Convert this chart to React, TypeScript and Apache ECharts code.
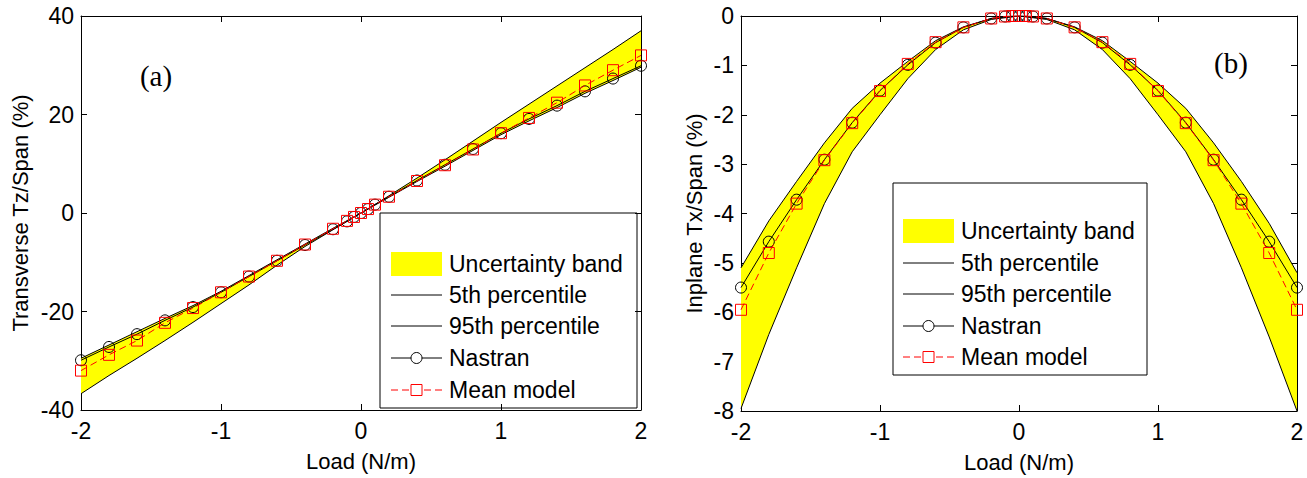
import React, { useEffect, useRef } from "react";
import * as echarts from "echarts";

// ---------- data ----------
const loadX = [-2, -1.8, -1.6, -1.4, -1.2, -1, -0.8, -0.6, -0.4, -0.2, -0.1, -0.05, 0, 0.05, 0.1, 0.2, 0.4, 0.6, 0.8, 1, 1.2, 1.4, 1.6, 1.8, 2];
const bandX = [-2, -1.8, -1.6, -1.4, -1.2, -1, -0.8, -0.6, -0.4, -0.2, 0, 0.2, 0.4, 0.6, 0.8, 1, 1.2, 1.4, 1.6, 1.8, 2];

// (a) transverse Tz/Span (%)
const tzNastran = [-29.9, -27.2, -24.6, -21.8, -19.1, -16.1, -12.9, -9.7, -6.5, -3.3, -1.7, -0.8, 0, 0.8, 1.7, 3.3, 6.6, 9.8, 13.0, 16.2, 19.1, 21.8, 24.7, 27.3, 29.9];
const tzMean = [-32.0, -28.8, -25.9, -22.3, -19.3, -16.1, -12.9, -9.7, -6.4, -3.2, -1.6, -0.8, 0, 0.8, 1.7, 3.3, 6.5, 9.7, 12.9, 16.2, 19.3, 22.4, 25.9, 29.0, 32.0];
const tzP5 = [-36.7, -33.0, -29.5, -25.9, -22.2, -18.4, -14.6, -10.6, -6.8, -3.4, 0, 3.2, 6.4, 9.5, 12.7, 15.9, 18.7, 21.4, 24.3, 26.9, 29.6];
const tzP95 = [-29.5, -26.8, -24.1, -21.4, -18.8, -15.9, -12.7, -9.5, -6.3, -3.1, 0, 3.5, 7.1, 10.8, 14.6, 18.4, 22.1, 25.8, 29.5, 33.2, 37.0];

// (b) inplane Tx/Span (%)
const txNastran = [-5.5, -4.57, -3.72, -2.91, -2.16, -1.51, -0.99, -0.54, -0.23, -0.05, -0.01, 0, 0, 0, -0.01, -0.05, -0.23, -0.54, -0.99, -1.51, -2.16, -2.91, -3.72, -4.57, -5.5];
const txMean = [-5.95, -4.8, -3.8, -2.92, -2.17, -1.52, -0.97, -0.53, -0.23, -0.05, -0.01, 0, 0, 0, -0.01, -0.05, -0.23, -0.53, -0.97, -1.52, -2.17, -2.92, -3.8, -4.8, -5.95];
const txP95 = [-5.1, -4.15, -3.35, -2.57, -1.87, -1.36, -0.92, -0.5, -0.22, -0.05, 0, -0.05, -0.22, -0.5, -0.92, -1.36, -1.87, -2.57, -3.35, -4.2, -5.2];
const txP5 = [-7.95, -6.45, -5.1, -3.8, -2.75, -2.0, -1.27, -0.68, -0.28, -0.07, 0, -0.07, -0.28, -0.68, -1.27, -2.0, -2.75, -3.8, -5.1, -6.5, -8.0];

const xTicks = { min: -2, max: 2, interval: 1 };
const legendLabels = ["Uncertainty band", "5th percentile", "95th percentile", "Nastran", "Mean model"];

// ---------- styling ----------
const FONT = "'Liberation Sans', Arial, sans-serif";
const SERIF = "'Liberation Serif', 'Times New Roman', serif";
const FS = 23;
const CLEAR = "rgba(0,0,0,0)";

const pairs = (xs: number[], ys: number[]) => xs.map((x, i) => [x, ys[i]]);

function makeAxis(kind: "x" | "y", gridIndex: number, pos: string, main: boolean, range: any, name?: string, nameGap?: number) {
  return {
    type: "value",
    gridIndex,
    position: pos,
    min: range.min,
    max: range.max,
    interval: range.interval,
    name: main ? name : undefined,
    nameLocation: "middle",
    nameGap,
    nameTextStyle: { color: "#000", fontSize: FS - 1, fontFamily: FONT },
    axisLine: { show: true, onZero: false, lineStyle: { color: "#000", width: 1 } },
    axisTick: { show: true, inside: true, length: 6, lineStyle: { color: "#000" } },
    axisLabel: { show: main, color: "#000", fontSize: FS, fontFamily: FONT, margin: kind === "x" ? 9 : 7 },
    splitLine: { show: false },
  };
}

function bandSeries(xi: number, yi: number, lo: number[], hi: number[]) {
  return {
    type: "custom",
    xAxisIndex: xi,
    yAxisIndex: yi,
    silent: true,
    z: 1,
    data: [[0, lo[0]]],
    renderItem: (_p: any, api: any) => {
      const pts: number[][] = [];
      for (let i = 0; i < bandX.length; i++) pts.push(api.coord([bandX[i], hi[i]]));
      for (let i = bandX.length - 1; i >= 0; i--) pts.push(api.coord([bandX[i], lo[i]]));
      return { type: "polygon", shape: { points: pts }, style: { fill: "#ffff00", stroke: "none" } };
    },
  };
}

function lineSeries(name: string, xi: number, yi: number, xs: number[], ys: number[], extra: any) {
  return {
    name,
    type: "line",
    xAxisIndex: xi,
    yAxisIndex: yi,
    data: pairs(xs, ys),
    silent: true,
    ...extra,
  };
}

function percentile(name: string, xi: number, yi: number, ys: number[]) {
  return lineSeries(name, xi, yi, bandX, ys, {
    symbol: "none",
    z: 2,
    lineStyle: { color: "#000", width: 1 },
  });
}

function nastran(xi: number, yi: number, ys: number[]) {
  return lineSeries("Nastran", xi, yi, loadX, ys, {
    symbol: "circle",
    symbolSize: 11,
    z: 3,
    lineStyle: { color: "#000", width: 1 },
    itemStyle: { color: CLEAR, borderColor: "#000", borderWidth: 1 },
  });
}

function mean(xi: number, yi: number, ys: number[]) {
  return lineSeries("Mean model", xi, yi, loadX, ys, {
    symbol: "rect",
    symbolSize: 11,
    z: 4,
    lineStyle: { color: "#ff0000", width: 1, type: [7, 4] },
    itemStyle: { color: CLEAR, borderColor: "#ff0000", borderWidth: 1 },
  });
}

function legendGraphic(bx: number, by: number, bw: number, bh: number, sx: number, rows: number[]) {
  const els: any[] = [];
  els.push({ type: "rect", shape: { x: bx, y: by, width: bw, height: bh }, style: { fill: "#fff", stroke: "#000", lineWidth: 1 } });
  const sw = 51;
  const cx = sx + sw / 2;
  els.push({ type: "rect", shape: { x: sx, y: rows[0] - 12, width: sw, height: 24 }, style: { fill: "#ffff00", stroke: "none" } });
  els.push({ type: "line", shape: { x1: sx, y1: rows[1], x2: sx + sw, y2: rows[1] }, style: { stroke: "#000", lineWidth: 1 } });
  els.push({ type: "line", shape: { x1: sx, y1: rows[2], x2: sx + sw, y2: rows[2] }, style: { stroke: "#000", lineWidth: 1 } });
  els.push({ type: "line", shape: { x1: sx, y1: rows[3], x2: sx + sw, y2: rows[3] }, style: { stroke: "#000", lineWidth: 1 } });
  els.push({ type: "circle", shape: { cx, cy: rows[3], r: 5.5 }, style: { fill: "#fff", stroke: "#000", lineWidth: 1 } });
  els.push({ type: "line", shape: { x1: sx, y1: rows[4], x2: sx + sw, y2: rows[4] }, style: { stroke: "#ff0000", lineWidth: 1, lineDash: [7, 4] } });
  els.push({ type: "rect", shape: { x: cx - 5.5, y: rows[4] - 5.5, width: 11, height: 11 }, style: { fill: "#fff", stroke: "#ff0000", lineWidth: 1 } });
  legendLabels.forEach((t, i) => {
    els.push({
      type: "text",
      x: sx + sw + 7,
      y: rows[i],
      style: { text: t, fill: "#000", fontSize: FS, fontFamily: FONT, verticalAlign: "middle", align: "left" },
    });
  });
  return { type: "group", z: 100, children: els };
}

export default function App() {
  const ref = useRef<HTMLDivElement>(null);
  useEffect(() => {
    const chart = echarts.init(ref.current!, null, { renderer: "svg" });
    const yA = { min: -40, max: 40, interval: 20 };
    const yB = { min: -8, max: 0, interval: 1 };
    chart.setOption({
      animation: false,
      backgroundColor: "#fff",
      textStyle: { fontFamily: FONT },
      grid: [
        { left: 81, top: 16, width: 560, height: 394, containLabel: false },
        { left: 741, top: 16, width: 556, height: 395, containLabel: false },
      ],
      xAxis: [
        makeAxis("x", 0, "bottom", true, xTicks, "Load (N/m)", 40),
        makeAxis("x", 0, "top", false, xTicks),
        makeAxis("x", 1, "bottom", true, xTicks, "Load (N/m)", 40),
        makeAxis("x", 1, "top", false, xTicks),
      ],
      yAxis: [
        makeAxis("y", 0, "left", true, yA, "Transverse Tz/Span (%)", 50),
        makeAxis("y", 0, "right", false, yA),
        makeAxis("y", 1, "left", true, yB, "Inplane Tx/Span (%)", 36),
        makeAxis("y", 1, "right", false, yB),
      ],
      series: [
        bandSeries(0, 0, tzP5, tzP95),
        percentile("5th percentile", 0, 0, tzP5),
        percentile("95th percentile", 0, 0, tzP95),
        nastran(0, 0, tzNastran),
        mean(0, 0, tzMean),
        bandSeries(2, 2, txP5, txP95),
        percentile("5th percentile", 2, 2, txP5),
        percentile("95th percentile", 2, 2, txP95),
        nastran(2, 2, txNastran),
        mean(2, 2, txMean),
      ],
      graphic: [
        legendGraphic(380, 213, 257, 195, 391, [264, 295, 326, 358, 390]),
        legendGraphic(893, 183, 254, 192, 903, [231, 263, 294, 326, 357]),
        { type: "text", x: 156, y: 76, z: 100, style: { text: "(a)", fill: "#000", fontSize: 29, fontFamily: SERIF, align: "center", verticalAlign: "middle" } },
        { type: "text", x: 1231, y: 63, z: 100, style: { text: "(b)", fill: "#000", fontSize: 29, fontFamily: SERIF, align: "center", verticalAlign: "middle" } },
      ],
    });
    return () => chart.dispose();
  }, []);
  return <div ref={ref} style={{ position: "fixed", left: 0, top: 0, width: 1307, height: 478, background: "#fff" }} />;
}
